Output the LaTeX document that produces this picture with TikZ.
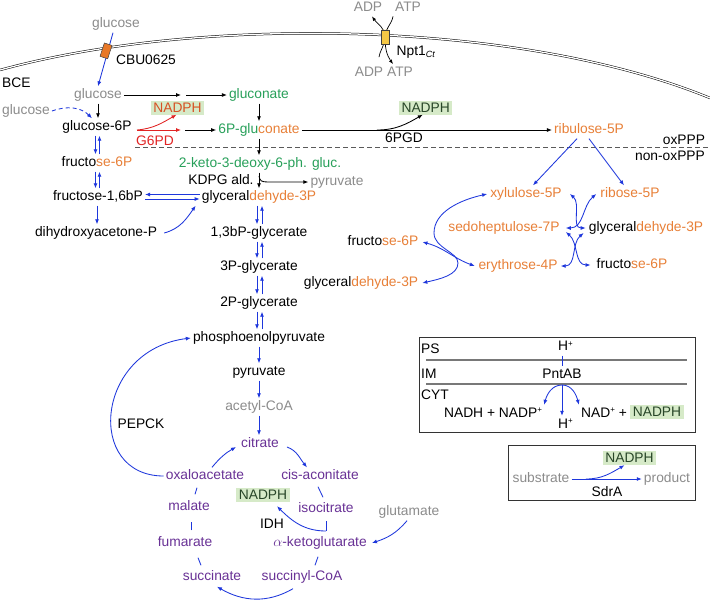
\documentclass[tikz,border=0pt]{standalone}
\usepackage{fontspec}
\setmainfont{Liberation Sans}
\usetikzlibrary{arrows.meta,shapes.geometric}
\definecolor{cgray}{RGB}{140,140,140}
\definecolor{cgreen}{RGB}{40,160,90}
\definecolor{corange}{RGB}{232,128,56}
\definecolor{cpurple}{RGB}{105,50,150}
\definecolor{cblue}{RGB}{30,55,220}
\definecolor{cred}{RGB}{225,35,35}
\definecolor{cnadred}{RGB}{215,80,35}
\definecolor{cnadbg}{RGB}{214,234,200}
\definecolor{cnadtx}{RGB}{40,70,40}
\definecolor{cdash}{RGB}{90,90,90}
\definecolor{csep}{RGB}{120,120,120}
\definecolor{ccbu}{RGB}{232,120,40}
\definecolor{cnpt}{RGB}{245,200,70}
\newcommand{\sps}[1]{\raisebox{0.55ex}{\fontsize{8}{8}\selectfont #1}}
\tikzset{
  lbl/.style={inner sep=2pt, text height=10pt, text depth=3pt},
  nad/.style={inner xsep=2.5pt, inner ysep=1.5pt, text height=10pt, text depth=1pt, fill=cnadbg, text=cnadtx},
  arr/.style={line width=0.85pt, -{Latex[length=5pt,width=4pt]}},
  arrtwo/.style={line width=0.85pt, {Latex[length=5pt,width=4pt]}-{Latex[length=5pt,width=4pt]}},
  barr/.style={arr, draw=cblue},
  bboth/.style={arrtwo, draw=cblue},
  karr/.style={arr, draw=black},
  rarr/.style={arr, draw=cred},
  bplain/.style={draw=cblue, line width=0.85pt},
  kthin/.style={draw=black, line width=0.7pt, -{Latex[length=4.5pt,width=3.5pt]}},
  kthinplain/.style={draw=black, line width=0.7pt},
  sepl/.style={draw=csep, line width=1.2pt},
  cyl/.style={cylinder, shape border rotate=90, aspect=0.3, minimum height=14pt, minimum width=8pt, inner sep=0pt, draw=black!75, line width=0.5pt},
}
\begin{document}
\begin{tikzpicture}[x=1pt,y=1pt,font=\fontsize{13.8}{16}\selectfont]
\useasboundingbox (0,0) rectangle (710,-603);
\fill[white] (0,0) rectangle (710,-603);

% membrane
\draw[double, double distance=1.3pt, line width=0.5pt] (0,-70) .. controls (200,-15) and (520,-20) .. (710,-98);

% ---------- labels ----------
\node[lbl,cgray] (glcout) at (116,-24) {glucose};
\node[lbl] (cbu) at (146,-60.5) {CBU0625};
\node[lbl,anchor=west] (bce) at (0,-83.5) {BCE};
\node[lbl,cgray] (glc) at (98,-95) {glucose};
\node[lbl,cgray,anchor=west] (glcl) at (0,-111) {glucose};
\node[lbl] (g6p) at (97,-127) {glucose-6P};
\node[lbl] (f6p) at (97,-163) {fructo\textcolor{corange}{se-6P}};
\node[lbl] (fbp) at (98,-197) {fructose-1,6bP};
\node[lbl] (dhap) at (96,-233) {dihydroxyacetone-P};
\node[nad,text=cnadred] (nadph1) at (177.5,-107.5) {NADPH};
\node[lbl,cred] (g6pd) at (155,-141.5) {G6PD};
\node[lbl,cgreen] (glcn) at (259,-95) {gluconate};
\node[lbl] (p6g) at (259,-130) {\textcolor{cgreen}{6P-glu}\textcolor{corange}{conate}};
\node[lbl,corange] (ru5p) at (589,-130) {ribulose-5P};
\node[nad] (nadph2) at (425.7,-107.5) {NADPH};
\node[lbl] (pgd) at (404,-139) {6PGD};
\node[lbl] (oxppp) at (684,-141) {oxPPP};
\node[lbl] (nonox) at (670,-157) {non-oxPPP};
\node[lbl,cgreen] (kdpg) at (260,-164) {2-keto-3-deoxy-6-ph. gluc.};
\node[lbl] (kdpgald) at (221,-180.5) {KDPG ald.};
\node[lbl,cgray] (pyrb) at (337,-182) {pyruvate};
\node[lbl] (gap) at (259,-197) {glyceral\textcolor{corange}{dehyde-3P}};
\node[lbl] (bpg) at (259,-233) {1,3bP-glycerate};
\node[lbl] (pgthree) at (259,-267) {3P-glycerate};
\node[lbl] (pgtwo) at (259,-303) {2P-glycerate};
\node[lbl] (pep) at (259,-338) {phosphoenolpyruvate};
\node[lbl] (pyr) at (259,-372) {pyruvate};
\node[lbl,cgray] (acoa) at (259,-407) {acetyl-CoA};
\node[lbl,cpurple] (cit) at (260,-444) {citrate};
\node[lbl,cpurple] (oaa) at (205,-476) {oxaloacetate};
\node[lbl,cpurple] (cis) at (320,-476) {cis-aconitate};
\node[lbl,cpurple] (mal) at (189,-507) {malate};
\node[nad] (nadph3) at (263,-495) {NADPH};
\node[lbl,cpurple] (icit) at (326,-509) {isocitrate};
\node[lbl] (idh) at (272,-524.5) {IDH};
\node[lbl,cpurple] (fum) at (185,-543) {fumarate};
\node[lbl,cpurple] (akg) at (320,-543) {$\alpha$-ketoglutarate};
\node[lbl,cgray] (glu) at (409,-512) {glutamate};
\node[lbl,cpurple] (suc) at (212,-577) {succinate};
\node[lbl,cpurple] (sca) at (302,-577) {succinyl-CoA};
\node[lbl] (pepck) at (141,-424.5) {PEPCK};

% non-oxidative PPP
\node[lbl,corange] (xu5p) at (526,-194) {xylulose-5P};
\node[lbl,corange] (r5p) at (630,-194) {ribose-5P};
\node[lbl,corange] (s7p) at (504,-228) {sedoheptulose-7P};
\node[lbl] (gapr) at (646,-228) {glyceral\textcolor{corange}{dehyde-3P}};
\node[lbl,corange] (e4p) at (518,-266) {erythrose-4P};
\node[lbl] (f6pr) at (632,-265) {fructo\textcolor{corange}{se-6P}};
\node[lbl] (f6pm) at (383,-242) {fructo\textcolor{corange}{se-6P}};
\node[lbl] (gapm) at (361,-283) {glyceral\textcolor{corange}{dehyde-3P}};

% transporter labels
\node[lbl,cgray] (adpt) at (368,-7.7) {ADP};
\node[lbl,cgray] (atpt) at (408,-7.7) {ATP};
\node[lbl,cgray] (adpb) at (369,-72.8) {ADP};
\node[lbl,cgray] (atpb) at (400,-72.8) {ATP};
\node[lbl] (nptl) at (416,-51.5) {Npt1\textsubscript{\fontsize{9}{9}\selectfont\itshape Ct}};

% ---------- transport ----------
\draw[barr] ([xshift=-3pt]glcout.south) -- (glc.north);
\node[cyl, fill=ccbu, rotate=-18] (cbucyl) at (106,-51) {};

\draw[kthin] ([xshift=10pt,yshift=7pt]adpb.north) to[out=80,in=-90] (385,-37) to[out=90,in=-55] ([xshift=4pt]adpt.south);
\draw[kthin] ([xshift=-15pt]atpt.south) to[out=-100,in=90] (385,-37) to[out=-90,in=125] ([xshift=-7pt]atpb.north);
\node[cyl, fill=cnpt] (npt) at (385,-37) {};

% ---------- upper pathway ----------
\coordinate (mone) at (181,-95);
\coordinate (mtwo) at (186,-95);
\draw[karr] (glc.east) -- (mone);
\draw[karr] (mtwo) -- (glcn.west);
\draw[karr] (glc.south) -- (glc.south |- g6p.north);
\draw[barr, dash pattern=on 4pt off 3pt] (glcl.east) to[out=20,in=135] ([xshift=-5pt]g6p.north);

\coordinate (rone) at (137,-130);
\coordinate (rtwo) at (181,-130);
\coordinate (rthree) at (185,-130);
\draw[rarr] (rone) -- (rtwo);
\draw[rarr] (rone) to[out=5,in=-150] ([xshift=-1pt]nadph1.south);
\draw[karr] (rthree) -- (p6g.west);
\draw[karr] (glcn.south) -- (glcn.south |- p6g.north);

\draw[karr] (p6g.east) -- (ru5p.west);
\coordinate (pgdj) at (377,-130);
\draw[karr] (pgdj) to[out=0,in=-150] ([xshift=-3pt]nadph2.south);

\draw[draw=cdash, line width=0.8pt, dash pattern=on 5pt off 3pt] (135,-147) -- (708,-147);

\draw[karr] (p6g.south) -- (p6g.south |- kdpg.north);
\draw[karr] ([xshift=-1pt]kdpg.south) -- ([xshift=-1pt]kdpg.south |- gap.north);
\coordinate (kj) at (259,-176);
\draw[karr] (kj) .. controls (259.5,-181) and (262,-182) .. (268,-182) -- (pyrb.west);

% glycolysis
\draw[barr] ([xshift=-1.5pt]g6p.south) -- ([xshift=-1.5pt]g6p.south |- f6p.north);
\draw[barr] ([xshift=2.5pt]f6p.north) -- ([xshift=2.5pt]f6p.north |- g6p.south);
\draw[barr] ([xshift=-1.5pt]f6p.south) -- ([xshift=-1.5pt]f6p.south |- fbp.north);
\draw[barr] ([xshift=1.5pt]fbp.north) -- ([xshift=1.5pt]fbp.north |- f6p.south);
\draw[barr] ([xshift=-1pt]fbp.south) -- ([xshift=-1pt]fbp.south |- dhap.north);
\draw[barr] ([yshift=2.5pt]gap.west) -- ([yshift=2.5pt]gap.west -| fbp.east);
\draw[barr] ([yshift=-2pt]fbp.east) -- ([yshift=-2pt]fbp.east -| gap.west);
\draw[barr] ([xshift=5pt]dhap.east) to[out=15,in=-125] ([xshift=-4pt]gap.south west);

\foreach \a/\b in {gap/bpg,bpg/pgthree,pgthree/pgtwo,pgtwo/pep}{
  \draw[barr] ([xshift=-2pt]\a.south) -- ([xshift=-2pt]\a.south |- \b.north);
  \draw[barr] ([xshift=3pt]\b.north) -- ([xshift=3pt]\b.north |- \a.south);
}
\draw[barr] (pep.south) -- (pep.south |- pyr.north);
\draw[barr] (pyr.south) -- (pyr.south |- acoa.north);
\draw[barr] (acoa.south) -- (acoa.south |- cit.north);

% TCA
\draw[barr] ([xshift=7pt]oaa.north) to[out=50,in=-150] ([xshift=-3pt,yshift=-3pt]cit.west);
\draw[barr] ([xshift=6pt,yshift=-3pt]cit.east) to[out=-20,in=130] ([xshift=-13pt]cis.north);
\draw[bplain] ([xshift=-2pt,yshift=-2pt]cis.south) -- ([xshift=-3pt,yshift=3pt]icit.north);
\coordinate (idhj) at (326,-531);
\draw[bplain] (326,-521) -- (idhj);
\draw[barr] (idhj) to[out=180,in=-45] ([xshift=14pt,yshift=-4pt]nadph3.south);
\draw[bplain] ([xshift=-2pt,yshift=-5pt]akg.south) -- ([xshift=13pt,yshift=3pt]sca.north);
\draw[barr] ([xshift=-2pt]glu.south) to[out=-130,in=18] ([xshift=3pt]akg.east);
\draw[barr] ([xshift=-9pt,yshift=-3pt]sca.south) to[out=-150,in=-30] ([xshift=5pt,yshift=-1pt]suc.south);
\draw[bplain] ([xshift=-11pt,yshift=3pt]suc.north) -- ([xshift=13pt,yshift=-6pt]fum.south);
\draw[bplain] ([xshift=6pt,yshift=4pt]fum.north) -- ([xshift=2pt,yshift=-6pt]mal.south);
\draw[bplain] ([xshift=6pt,yshift=4pt]mal.north) -- ([xshift=-8pt,yshift=-3pt]oaa.south);
\draw[barr] (oaa.west) .. controls (85,-476) and (95,-350) .. (pep.west);

% non-oxidative PPP arrows
\draw[barr] ([xshift=-12pt]ru5p.south) -- ([xshift=7pt]xu5p.north);
\draw[barr] (ru5p.south) -- ([xshift=-6pt]r5p.north);
\draw[bboth] ([xshift=6pt]xu5p.east) to[out=-40,in=180] ([xshift=-1pt]gapr.west);
\draw[bboth] ([xshift=-2pt]r5p.west) to[out=-140,in=0] ([xshift=4pt]s7p.east);
\draw[bboth] ([xshift=4pt,yshift=-4pt]s7p.east) to[out=-40,in=180] ([xshift=-4pt]f6pr.west);
\draw[bboth] ([xshift=-3pt,yshift=-5pt]gapr.west) to[out=-140,in=0] ([xshift=1pt]e4p.east);
\draw[bboth] ([xshift=2pt]gapm.east) .. controls (440,-279) and (458,-275) .. (458,-263)
   .. controls (458,-252) and (434,-248) .. (434,-233)
   .. controls (434,-212) and (460,-200) .. ([xshift=-1pt]xu5p.west);
\draw[bboth] ([xshift=2pt]f6pm.east) to[out=-15,in=160] ([xshift=-1.5pt]e4p.west);

% ---------- PntAB box ----------
\node[draw=black!80, line width=0.8pt, minimum width=276pt, minimum height=95pt, inner sep=0pt] (boxone) at (557,-384.5) {};
\draw[sepl] (426,-360) -- (687,-360);
\draw[sepl] (426,-384) -- (687,-384);
\node[lbl,anchor=west] (ps) at (419,-349.5) {PS};
\node[lbl,anchor=west] (im) at (419,-374.5) {IM};
\node[lbl,anchor=west] (cyt) at (419,-395.5) {CYT};
\node[lbl] (hpone) at (565.5,-347) {H\sps{+}};
\node[lbl] (pnt) at (562,-374.5) {PntAB};
\node[lbl] (hptwo) at (565.5,-424.5) {H\sps{+}};
\node[lbl] (nadhl) at (493,-413.5) {NADH + NADP\sps{+}};
\node[lbl] (nadr) at (604,-413.5) {NAD\sps{+} +};
\node[nad] (nadph4) at (657,-412) {NADPH};
\draw[bplain] ([xshift=-3.5pt]hpone.south) -- ([xshift=0pt]pnt.north);
\coordinate (pj) at (562,-385);
\draw[barr] (pj) -- ([xshift=-3.5pt]hptwo.north);
\draw[barr] (pj) to[out=180,in=75] (nadhl.north east);
\draw[barr] (pj) to[out=0,in=105] (nadr.north west);

% ---------- SdrA box ----------
\node[draw=black!80, line width=0.8pt, minimum width=187pt, minimum height=55pt, inner sep=0pt] (boxtwo) at (601.5,-472.5) {};
\node[lbl,cgray] (sub) at (541,-479) {substrate};
\node[lbl,cgray] (prod) at (667,-479) {product};
\node[lbl] (sdra) at (607,-493) {SdrA};
\node[nad] (nadph5) at (629.5,-458) {NADPH};
\draw[barr] (sub.east) -- (prod.west);
\coordinate (sj) at (586,-479);
\draw[barr] (sj) to[out=0,in=-150] ([xshift=-5pt]nadph5.south);
\end{tikzpicture}
\end{document}
